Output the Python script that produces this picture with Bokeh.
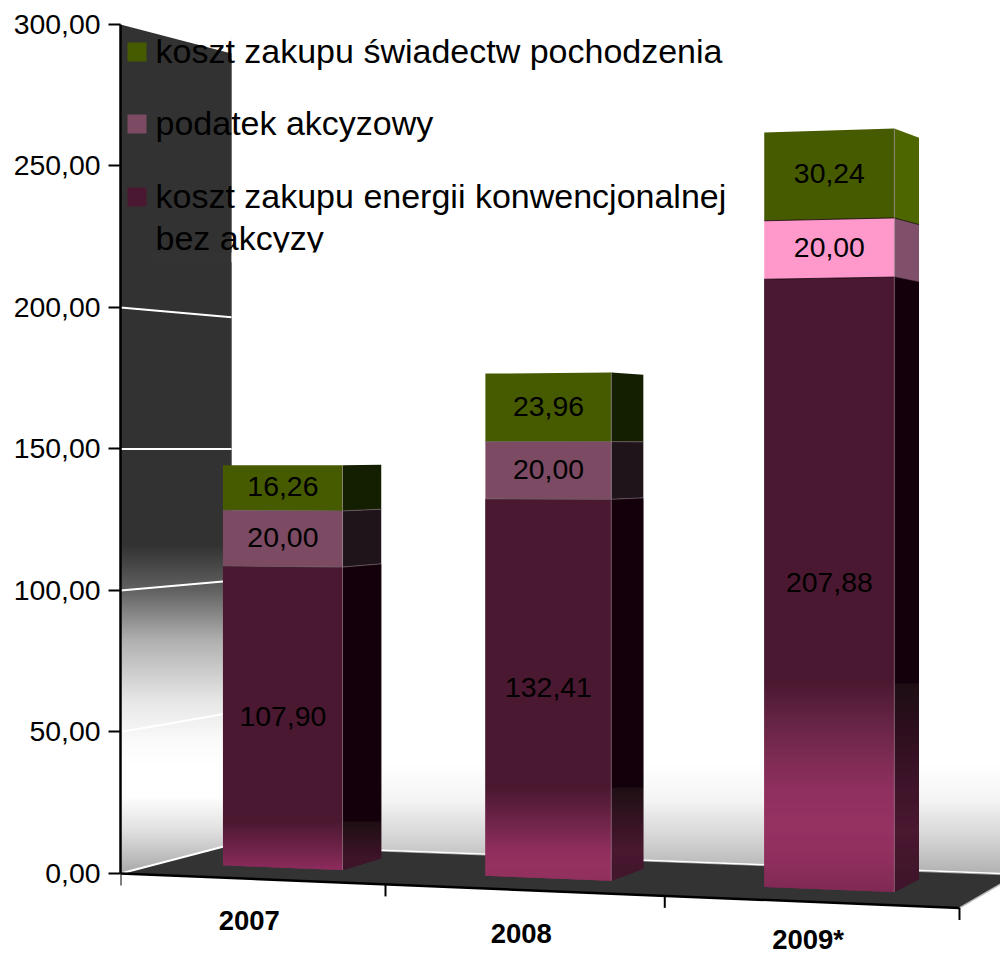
from bokeh.plotting import figure
from bokeh.models import Range1d, FixedTicker
from bokeh.core.properties import value
from bokeh.embed import file_html
from bokeh.resources import INLINE

# ---- data ----
categories = ["2007", "2008", "2009*"]
series_names = ["koszt zakupu energii konwencjonalnej bez akcyzy", "podatek akcyzowy", "koszt zakupu świadectw pochodzenia"]
energia = [107.90, 132.41, 207.88]
akcyza = [20.00, 20.00, 20.00]
swiadectwa = [16.26, 23.96, 30.24]
y_ticks = [0, 50, 100, 150, 200, 250, 300]
y_tick_labels = ["0,00", "50,00", "100,00", "150,00", "200,00", "250,00", "300,00"]
wall_grid_values = [0, 50, 100, 150, 200]

def pl(x):
    return f"{x:.2f}".replace(".", ",")

# ---- camera: category u, value v, depth d -> page pixels ----
def project(u, v, d):
    w = 1 - 0.02555 * u + 0.0733 * d
    return ((255.16 * u + 127.9 * d + 120) / w,
            (-11.7 * u + 32.9 * d + 873 - 2.83 * v) / w)

F = "Liberation Sans"
p = figure(width=1000, height=955, x_range=Range1d(120, 1000), y_range=Range1d(-28.98, 308.48),
           x_axis_type=None, output_backend="svg", toolbar_location=None,
           min_border_left=120, min_border_right=0, min_border_top=0, min_border_bottom=0)
p.styles = {"position": "absolute", "left": "0px", "top": "0px"}
p.extra_y_ranges["screen"] = Range1d(955, 0)
p.outline_line_color = None
p.grid.visible = False
p.background_fill_color = "white"
S = "screen"

ax = p.yaxis[0]
ax.ticker = FixedTicker(ticks=y_ticks)
ax.major_label_overrides = dict(zip(y_ticks, y_tick_labels))
ax.bounds = (0, 300)
ax.axis_line_color = "black"
ax.axis_line_width = 2.5
ax.major_tick_line_color = "black"
ax.major_tick_line_width = 2
ax.major_tick_in = 0
ax.major_tick_out = 12
ax.minor_tick_line_color = None
ax.major_label_text_font = F
ax.major_label_text_font_size = "28.4px"
ax.major_label_text_color = "black"
ax.major_label_standoff = 8

def hex2rgb(h):
    return [int(h[i:i + 2], 16) for i in (1, 3, 5)]

def ramp(stops, y):
    if y <= stops[0][0]:
        return stops[0][1]
    if y >= stops[-1][0]:
        return stops[-1][1]
    for (a, ca), (b, cb) in zip(stops, stops[1:]):
        if a <= y <= b:
            t = (y - a) / (b - a) if b > a else 0
            A, B = hex2rgb(ca), hex2rgb(cb)
            return "#%02x%02x%02x" % tuple(round(A[i] + (B[i] - A[i]) * t) for i in range(3))

# ---- walls ----
LEFT_WALL = [(545, "#333333"), (590, "#626262"), (640, "#b0b0b0"), (700, "#e6e6e6"), (740, "#fafafa"),
             (765, "#ffffff"), (795, "#ffffff"), (830, "#e0e0e0"), (873, "#a8a8a8")]
BACK_WALL = [(763, "#ffffff"), (800, "#f4f4f4"), (840, "#d2d2d2"), (875, "#b0b0b0")]

x_back, y_top_back = project(0, 300, 1)
x_front, y_top_front = project(0, 300, 0)
_, y_base = project(0, 0, 0)
ys = list(range(int(y_top_front), int(y_base)))
p.quad(left=[x_front] * len(ys), right=[x_back] * len(ys), top=ys, bottom=[min(y + 2, y_base) for y in ys],
       fill_color=[ramp(LEFT_WALL, y + .5) for y in ys], line_color=None, y_range_name=S)
p.patch([x_front, x_back, x_back + 1, x_front], [y_top_front, y_top_back, y_top_front - 3, y_top_front - 3],
        fill_color="white", line_color=None, y_range_name=S)
ys2 = list(range(763, 876))
p.quad(left=[x_back] * len(ys2), right=[1000] * len(ys2), top=ys2, bottom=[y + 2 for y in ys2],
       fill_color=[ramp(BACK_WALL, y + .5) for y in ys2], line_color=None, y_range_name=S)

# ---- floor ----
corners = [project(0, 0, 0), project(3, 0, 0), project(3, 0, 1), project(0, 0, 1)]
p.patch([c[0] for c in corners], [c[1] for c in corners], fill_color="#333333", line_color=None, y_range_name=S)
a, b = project(0, 0, 0.97), project(3, 0, 0.97)
p.line([a[0], b[0]], [a[1], b[1]], line_color="#999999", line_width=1, y_range_name=S)
a, b = project(0, 0, 1), project(3, 0, 1)
p.line([a[0], b[0]], [a[1], b[1]], line_color="white", line_width=1.5, y_range_name=S)
a, b = project(3, 0, 0), project(3, 0, 1)
p.line([a[0], b[0]], [a[1], b[1]], line_color="#b8b8b8", line_width=1.5, y_range_name=S)

# wall gridlines
for v in wall_grid_values:
    a, b = project(0, v, 0), project(0, v, 1)
    p.line([a[0], b[0]], [a[1], b[1]], line_color="white", line_width=2, y_range_name=S)

# ---- bars ----
U0 = [0.243, 0.243, 0.252]
U1, D0, D1 = 0.705, 0.35, 0.74
GREEN, MAUVE, DARK = "#465a00", "#7c4a62", "#4a1830"
front_mid = [MAUVE, MAUVE, "#ff99cc"]
side_mid = ["#1e1419", "#1e1419", "#804f6a"]
side_top = ["#141e00", "#141e00", "#4d6600"]
seam = ["#6d5a64", "#6d5a64", "#14000a"]
FRONT_RAMP = [
    [(820, DARK), (868, "#8b2c5c")],
    [(787, DARK), (850, "#8f2f5e"), (865, "#96325f"), (882, "#8f2f5d")],
    [(680, DARK), (720, "#652444"), (760, "#7f2c54"), (790, "#8f3060"), (825, "#963263"), (860, "#8f2f5e"), (892, "#7e2a54")],
]
SIDE_RAMP = [
    [(820.9, "#14000a"), (821, "#1e0f14"), (858, "#3f1429")],
    [(786.9, "#14000a"), (787, "#1e0f14"), (850, "#4a1830"), (870, "#43162c")],
    [(682.9, "#14000a"), (683, "#1e0f14"), (730, "#2d0f1e"), (780, "#3e1329"), (830, "#4a1830"), (880, "#40152a")],
]

def face(ua, da, ub, db, v0, v1, color):
    pts = [project(ua, v0, da), project(ub, v0, db), project(ub, v1, db), project(ua, v1, da)]
    p.patch([q[0] for q in pts], [q[1] for q in pts], fill_color=color, line_color=None, y_range_name=S)

def clip_band(poly, y1, y2):
    def clip(poly, keep, cut):
        out = []
        for (ax_, ay), (bx, by) in zip(poly, poly[1:] + poly[:1]):
            ka, kb = keep(ay), keep(by)
            if ka:
                out.append((ax_, ay))
            if ka != kb:
                t = (cut - ay) / (by - ay)
                out.append((ax_ + (bx - ax_) * t, cut))
        return out
    r = clip(poly, lambda y: y >= y1, y1)
    return clip(r, lambda y: y <= y2, y2) if r else r

def strips(ua, da, ub, db, v1, stops):
    quad_ = [project(ua, 0, da), project(ub, 0, db), project(ub, v1, db), project(ua, v1, da)]
    top = int(min(q[1] for q in quad_))
    bot = int(max(q[1] for q in quad_)) + 2
    xs, yy, cols = [], [], []
    for y in range(top, bot):
        r = clip_band(quad_, y, y + 2)
        if len(r) >= 3:
            xs.append([q[0] for q in r])
            yy.append([q[1] for q in r])
            cols.append(ramp(stops, y + .5))
    p.patches(xs, yy, fill_color=cols, line_color=None, y_range_name=S)

for i, cat in enumerate(categories):
    u0, u1 = i + U0[i], i + U1
    b1, b2, b3 = energia[i], energia[i] + akcyza[i], energia[i] + akcyza[i] + swiadectwa[i]
    strips(u1, D0, u1, D1, b1, SIDE_RAMP[i])
    face(u1, D0, u1, D1, b1, b2, side_mid[i])
    face(u1, D0, u1, D1, b2, b3, side_top[i])
    strips(u0, D0, u1, D0, b1, FRONT_RAMP[i])
    face(u0, D0, u1, D0, b1, b2, front_mid[i])
    face(u0, D0, u1, D0, b2, b3, GREEN)
    # edges
    for v in (b1, b2):
        a, c, d = project(u0, v, D0), project(u1, v, D0), project(u1, v, D1)
        p.line([a[0], c[0], d[0]], [a[1], c[1], d[1]], line_color=seam[i], line_width=1, line_alpha=.8, y_range_name=S)
    a, c = project(u1, 0, D0), project(u1, b3, D0)
    p.line([a[0], c[0]], [a[1], c[1]], line_color="#a08c96", line_width=1, line_alpha=.55, y_range_name=S)
    # value labels
    uc = i + (U0[i] + U1) / 2
    for lo, val in ((0, energia[i]), (b1, akcyza[i]), (b2, swiadectwa[i])):
        x, y = project(uc, lo + val / 2, D0)
        p.text([x + 0.5], [y - 1], text=[pl(val)], text_font=value(F), text_font_size="28.4px", text_color="black",
               text_align="center", text_baseline="middle", y_range_name=S)

# ---- slanted category axis ----
a, b = project(0, 0, 0), project(3, 0, 0)
p.line([a[0], b[0]], [a[1], b[1]], line_color="black", line_width=2.5, y_range_name=S)
for u in range(4):
    x, y = project(u, 0, 0)
    p.line([x, x], [y, y + 12], line_color="black", line_width=2, y_range_name=S)
cat_label_drop = [41.5, 43, 38]
for i, cat in enumerate(categories):
    x, y = project(i + .5, 0, 0)
    p.text([x - 2], [y + cat_label_drop[i]], text=[cat], text_font=value(F), text_font_style="bold", text_font_size="27.5px",
           text_color="black", text_align="center", text_baseline="middle", y_range_name=S)

# ---- legend ----
legend_rows = [(GREEN, 42, [("koszt zakupu świadectw pochodzenia", 50)]),
               (MAUVE, 114, [("podatek akcyzowy", 122)]),
               (DARK, 187, [("koszt zakupu energii konwencjonalnej", 195), ("bez akcyzy", 237)])]
for col, top, lines in legend_rows:
    p.quad(left=[127], right=[146], top=[top], bottom=[top + 19], fill_color=col, line_color=None, y_range_name=S)
    for txt, base in lines:
        p.text([155], [base], text=[txt], text_font=value(F), text_font_size="34px", text_color="black",
               text_align="left", text_baseline="alphabetic", y_range_name=S)
# legend box clips the descenders of its last line
p.quad(left=[150], right=[x_back], top=[252], bottom=[262], fill_color="#333333", line_color=None, y_range_name=S)
p.quad(left=[x_back], right=[345], top=[252], bottom=[262], fill_color="white", line_color=None, y_range_name=S)

open("out.html", "w").write(file_html(p, INLINE))
